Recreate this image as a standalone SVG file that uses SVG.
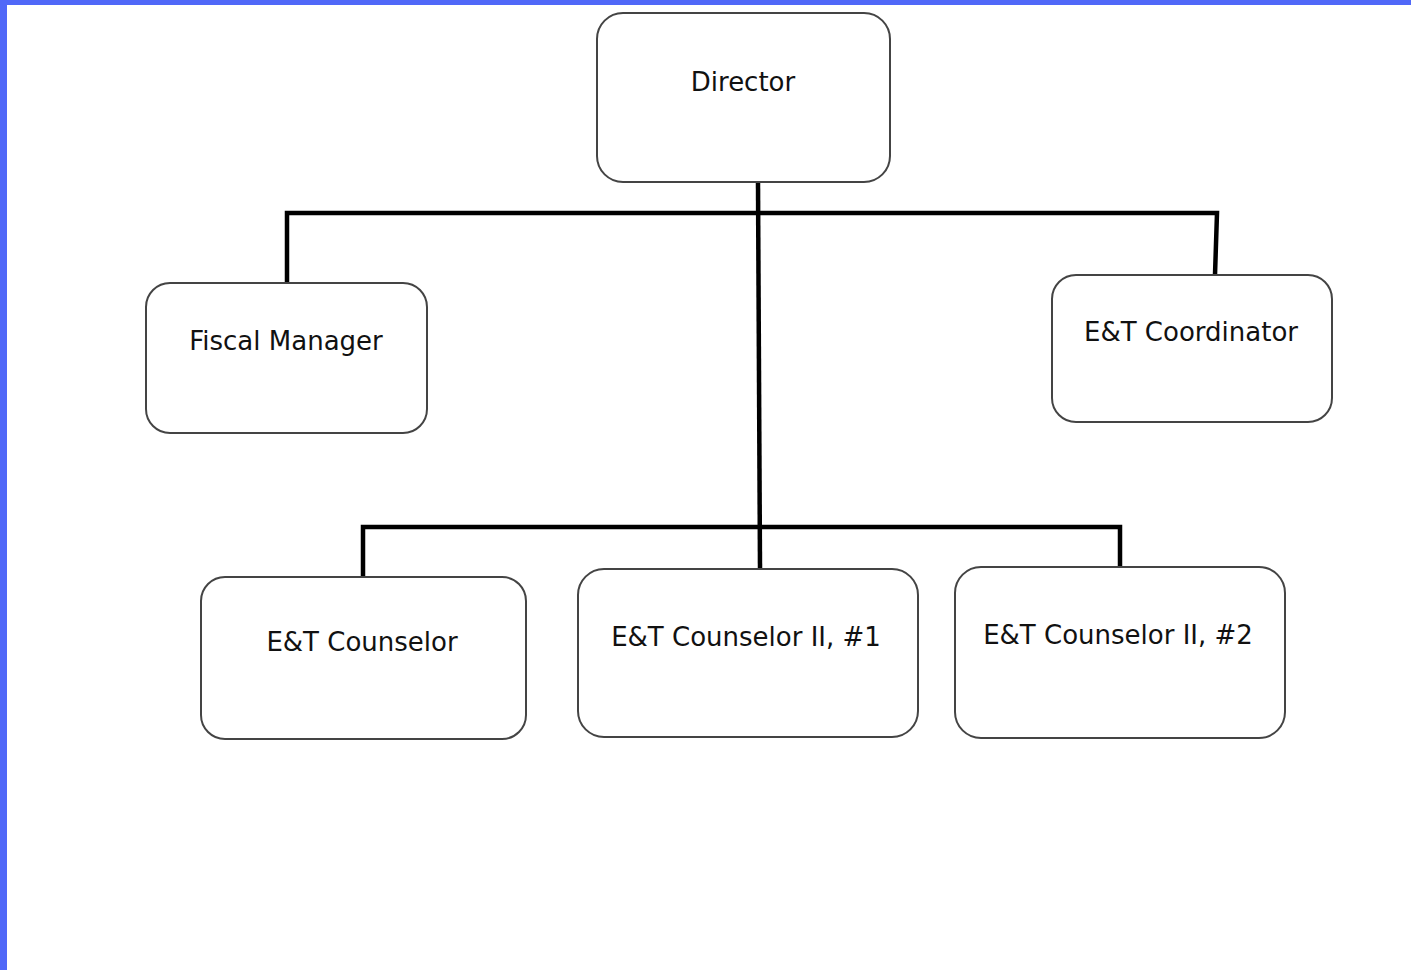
<svg xmlns="http://www.w3.org/2000/svg" width="1411" height="970" viewBox="0 0 1411 970">
<style>
.box{fill:#fff;stroke:#444;stroke-width:2}
.lbl{font-family:"DejaVu Sans",Verdana,sans-serif;font-size:26px;fill:#111;text-anchor:middle}
.con{stroke:#000;stroke-width:4.5;fill:none}
</style>
<rect x="0" y="0" width="1411" height="970" fill="#fff"/>
<rect x="0" y="0" width="1411" height="5" fill="#5068f8"/>
<rect x="0" y="0" width="7" height="970" fill="#5068f8"/>
<g id="connectors">
<path class="con" d="M758 182 L760 569"/>
<path class="con" d="M287 283 L287 213 L1217 213 L1215 275"/>
<path class="con" d="M363 577 L363 527 L1120 527 L1120 567"/>
</g>
<g id="director"><rect class="box" x="597" y="13" width="293" height="169" rx="26"/><text class="lbl" x="743" y="91">Director</text></g>
<g id="fiscal-manager"><rect class="box" x="146" y="283" width="281" height="150" rx="24"/><text class="lbl" x="286" y="350">Fiscal Manager</text></g>
<g id="et-coordinator"><rect class="box" x="1052" y="275" width="280" height="147" rx="24"/><text class="lbl" x="1191" y="341">E&amp;T Coordinator</text></g>
<g id="et-counselor"><rect class="box" x="201" y="577" width="325" height="162" rx="24"/><text class="lbl" x="362" y="651">E&amp;T Counselor</text></g>
<g id="et-counselor-ii-1"><rect class="box" x="578" y="569" width="340" height="168" rx="26"/><text class="lbl" x="746" y="646">E&amp;T Counselor II, #1</text></g>
<g id="et-counselor-ii-2"><rect class="box" x="955" y="567" width="330" height="171" rx="26"/><text class="lbl" x="1118" y="644">E&amp;T Counselor II, #2</text></g>
</svg>
